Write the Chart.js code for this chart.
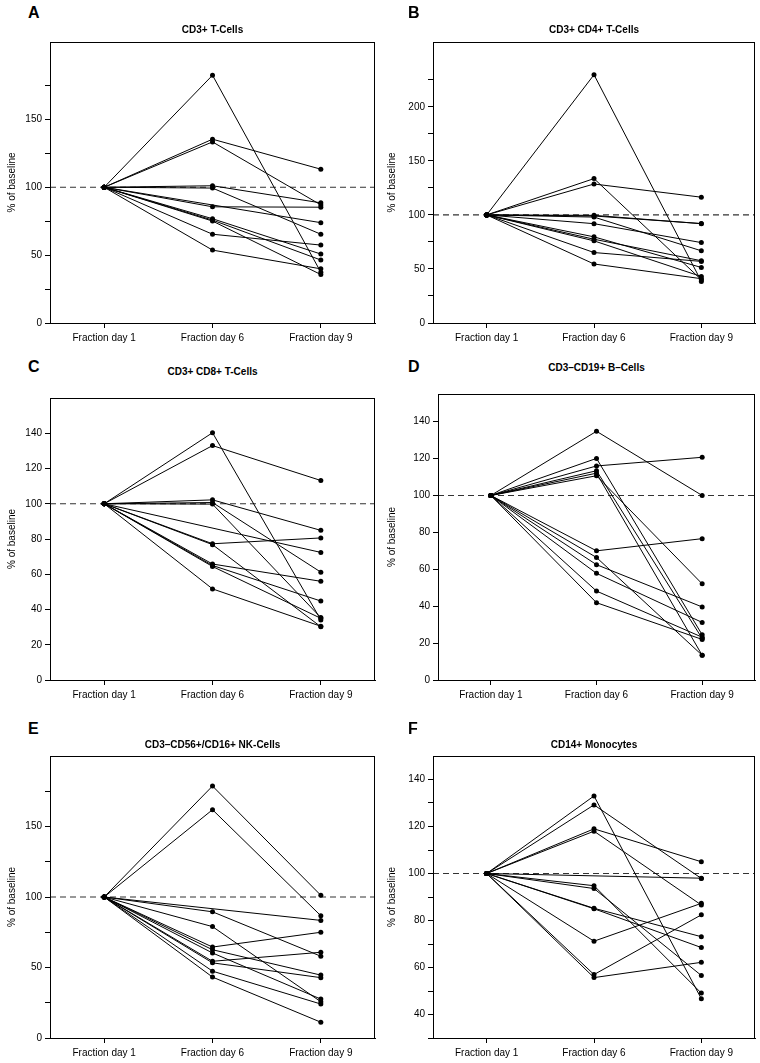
<!DOCTYPE html>
<html>
<head>
<meta charset="utf-8">
<script src="https://cdn.jsdelivr.net/npm/chart.js@4/dist/chart.umd.min.js"></script>
<style>
  body { margin: 0; background: #fff; width: 760px; height: 1063px; position: relative; overflow: hidden;
         font-family: "Liberation Sans", Arial, sans-serif; color: #000; }
  .panel { position: absolute; }
  .letter { position: absolute; font-weight: bold; font-size: 16px; line-height: 16px; }
  .title { position: absolute; font-weight: bold; font-size: 10px; line-height: 12px; white-space: nowrap; transform: translateX(-50%); }
</style>
</head>
<body>
<script>
// x categories
const fractions = ["Fraction day 1", "Fraction day 6", "Fraction day 9"];

// one row per patient: [day 1, day 6, day 9] in % of baseline (null = missing)
const cd3TCells = [
  [100, 182.5, 37.4], [100, 135.4, 113.3], [100, 133.4, 87], [100, 101.1, 88.5],
  [100, 99.4, 65.4], [100, 85.6, 85.3], [100, null, 73.9], [100, 76.8, 50.8],
  [100, 75.8, 46.4], [100, 75.1, 35.7], [100, 65.4, 57.4], [100, 53.7, 39.9]
];
const cd4TCells = [
  [100, 229.7, 38.5], [100, 133.6, 40], [100, 128.6, 116.4], [100, 99.6, 91.9],
  [100, 99, 92], [100, 98, 66.8], [100, 91.9, 74.4], [100, 79.7, 51.4],
  [100, 77.5, 57.6], [100, 76, 43], [100, 65.2, 57], [100, 54.6, 41]
];
const cd8TCells = [
  [100, 140.3, 34.1], [100, 133, 113.2], [100, 102.2, 84.9], [100, 100.7, 61.2],
  [100, 99.8, 35.4], [100, null, 72.4], [100, 77.3, 80.6], [100, 76.8, 30.2],
  [100, 65.8, 56], [100, 65, 44.8], [100, 64.4, 35], [100, 51.7, 30.5]
];
const bCells = [
  [100, 134.8, 100], [100, 120.1, 24.5], [100, 116, 120.7], [100, 113.4, 22.5],
  [100, 112.1, 13.4], [100, 110.7, 52.1], [100, 70, 76.6], [100, 66.4, 13.4],
  [100, 62.5, 39.6], [100, 57.8, 31.2], [100, 48.2, 23.2], [100, 41.9, 22]
];
const nkCells = [
  [100, 178.7, 101.2], [100, 161.9, 86.7], [100, null, 83.4], [100, 89.5, 58],
  [100, 79, 25.7], [100, 64.5, 75], [100, 62.6, 44.6], [100, 60.3, 27.6],
  [100, 54.4, 60.8], [100, 53.3, 42.8], [100, 47.4, 24.1], [100, 43.2, 11.2]
];
const monocytes = [
  [100, 133, 46.7], [100, 129.2, 97.9], [100, 119, 105], [100, 118, 86.6],
  [100, null, 98], [100, 94.8, 49.1], [100, 93.6, 56.6], [100, 85.2, 73.1],
  [100, 85, 68.5], [100, 71.2, 87.3], [100, 57, 82.4], [100, 55.7, 62.2]
];

const baseline = 100;

// layout of the six panels (pixels)
const panels = [
  { letter: "A", title: "CD3+ T-Cells", rows: cd3TCells, left: 0, plotLeft: 50, plotRight: 375, plotTop: 39, plotBottom: 323,
    letterY: 5, titleY: 30, min: 0, max: 207, step: 25, labelStep: 50, tickMax: 175 },
  { letter: "B", title: "CD3+ CD4+ T-Cells", rows: cd4TCells, left: 380, plotLeft: 433, plotRight: 755, plotTop: 39, plotBottom: 323,
    letterY: 5, titleY: 30, min: 0, max: 260, step: 25, labelStep: 50, tickMax: 225 },
  { letter: "C", title: "CD3+ CD8+ T-Cells", rows: cd8TCells, left: 0, plotLeft: 50, plotRight: 375, plotTop: 395, plotBottom: 680,
    letterY: 359, titleY: 372, min: 0, max: 160, step: 20, labelStep: 20, tickMax: 140 },
  { letter: "D", title: "CD3\u2013CD19+ B\u2013Cells", rows: bCells, left: 380, plotLeft: 438, plotRight: 755, plotTop: 391, plotBottom: 680,
    letterY: 359, titleY: 368, min: 0, max: 155, step: 20, labelStep: 20, tickMax: 140 },
  { letter: "E", title: "CD3\u2013CD56+/CD16+ NK-Cells", rows: nkCells, left: 0, plotLeft: 50, plotRight: 375, plotTop: 753, plotBottom: 1038,
    letterY: 721, titleY: 745, min: 0, max: 200, step: 25, labelStep: 50, tickMax: 175 },
  { letter: "F", title: "CD14+ Monocytes", rows: monocytes, left: 380, plotLeft: 433, plotRight: 755, plotTop: 753, plotBottom: 1038,
    letterY: 721, titleY: 745, min: 30, max: 150, step: 10, labelStep: 20, tickMax: 140 }
];

const padTop = 6;
const xAxisH = 25;

// frame box around the plot + dashed baseline
const framePlugin = {
  id: "frame",
  beforeDatasetsDraw(chart) {
    const { ctx, chartArea: a, scales } = chart;
    const y = scales.y.getPixelForValue(baseline);
    ctx.save();
    ctx.strokeStyle = "#333";
    ctx.lineWidth = 1.2;
    ctx.setLineDash([6, 4]);
    ctx.beginPath();
    ctx.moveTo(a.left, y);
    ctx.lineTo(a.right, y);
    ctx.stroke();
    ctx.restore();
  },
  afterDraw(chart) {
    const { ctx, chartArea: a } = chart;
    ctx.save();
    ctx.strokeStyle = "#000";
    ctx.lineWidth = 1;
    ctx.strokeRect(a.left + 0.5, a.top + 0.5, a.right - a.left - 1, a.bottom - a.top);
    ctx.restore();
  }
};

panels.forEach((p) => {
  const div = document.createElement("div");
  div.className = "panel";
  div.style.left = p.left + "px";
  div.style.top = (p.plotTop - padTop) + "px";
  const canvas = document.createElement("canvas");
  canvas.width = 380;
  canvas.height = p.plotBottom - p.plotTop + padTop + xAxisH;
  div.appendChild(canvas);
  document.body.appendChild(div);

  const letter = document.createElement("div");
  letter.className = "letter";
  letter.textContent = p.letter;
  letter.style.left = (p.left + 28) + "px";
  letter.style.top = p.letterY + "px";
  document.body.appendChild(letter);

  const title = document.createElement("div");
  title.className = "title";
  title.textContent = p.title;
  title.style.left = ((p.plotLeft + p.plotRight) / 2) + "px";
  title.style.top = (p.titleY - 6) + "px";
  document.body.appendChild(title);

  new Chart(canvas, {
    type: "line",
    data: {
      labels: fractions,
      datasets: p.rows.map((row) => ({
        data: row,
        borderColor: "#000",
        borderWidth: 1,
        backgroundColor: "#000",
        pointRadius: 2.5,
        pointBorderWidth: 0,
        pointBackgroundColor: "#000",
        spanGaps: true,
        tension: 0,
        clip: false
      }))
    },
    options: {
      responsive: false,
      animation: false,
      events: [],
      layout: { padding: { top: padTop, right: p.left + 380 - p.plotRight, left: 0, bottom: 0 } },
      plugins: { legend: { display: false }, tooltip: { enabled: false } },
      scales: {
        x: {
          offset: true,
          grid: { drawOnChartArea: false, tickLength: 5, color: "#000" },
          border: { color: "#000" },
          ticks: { color: "#000", font: { family: "Liberation Sans", size: 10 }, padding: 4, maxRotation: 0 },
          afterFit(s) { s.height = xAxisH; }
        },
        y: {
          min: p.min,
          max: p.max,
          grid: { drawOnChartArea: false, tickLength: 5, color: "#000" },
          border: { color: "#000" },
          ticks: {
            stepSize: p.step,
            includeBounds: false,
            color: "#000",
            font: { family: "Liberation Sans", size: 10 },
            padding: 3,
            callback: (v) => (v % p.labelStep === 0 ? v : "")
          },
          afterBuildTicks(s) { s.ticks = s.ticks.filter((t) => t.value <= p.tickMax); },
          title: { display: true, text: "% of baseline", color: "#000", font: { family: "Liberation Sans", size: 10 }, padding: { top: 6, bottom: 0 } },
          afterFit(s) { s.width = p.plotLeft - p.left; }
        }
      }
    },
    plugins: [framePlugin]
  });
});
</script>
</body>
</html>
